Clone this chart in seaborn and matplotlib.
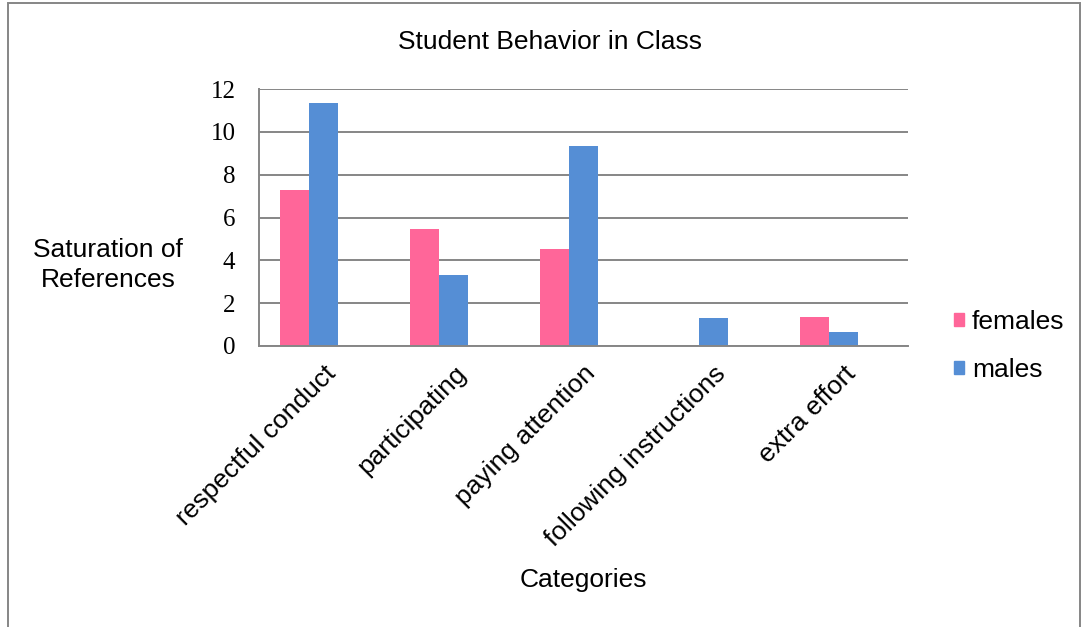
import numpy as np
import pandas as pd
import matplotlib
matplotlib.use("Agg")
import matplotlib.pyplot as plt
import matplotlib.patches as mpatches
from matplotlib.ticker import FixedLocator
import seaborn as sns

# --- Data
categories = ["respectful conduct", "participating", "paying attention",
              "following instructions", "extra effort"]
females = [7.27, 5.45, 4.55, 0.0, 1.36]
males = [11.33, 3.33, 9.33, 1.33, 0.67]
# the source chart reserves room for a third, empty series
blank = [np.nan] * len(categories)

series_names = ["females", "males", "blank"]
series_colors = {"females": "#FF6699", "males": "#558ED5", "blank": "#FFFFFF"}

df = pd.DataFrame({
    "category": categories * 3,
    "series": [s for s in series_names for _ in categories],
    "value": females + males + blank,
})

sns.set_style("white")
plt.rcParams["font.family"] = ["Liberation Sans", "DejaVu Sans"]
plt.rcParams["text.color"] = "black"

grid_col = "#868686"
fs = 19

fig = plt.figure(figsize=(10.84, 6.27), dpi=100)
ax = fig.add_axes([259 / 1084, 1 - 346 / 627, (908 - 259) / 1084, (346 - 89) / 627])

sns.barplot(data=df, x="category", y="value", hue="series", hue_order=series_names,
            order=categories, palette=series_colors, width=0.67, linewidth=0,
            saturation=1, legend=False, ax=ax)

ax.set_ylim(0, 12)
ax.set_xlim(-0.5, len(categories) - 0.5)
ax.set_yticks(range(0, 13, 2))
ax.yaxis.grid(True, color=grid_col, linewidth=1.4)
ax.set_axisbelow(True)

for side in ["top", "right"]:
    ax.spines[side].set_visible(False)
for side in ["left", "bottom"]:
    ax.spines[side].set_color(grid_col)
    ax.spines[side].set_linewidth(1.4)

ax.tick_params(axis="y", length=6, width=1.4, color=grid_col, pad=11,
               labelsize=18, labelcolor="black")
for lab in ax.get_yticklabels():
    lab.set_family(["Liberation Serif", "DejaVu Serif"])

ax.xaxis.set_minor_locator(FixedLocator(np.arange(-0.5, len(categories), 1.0)))
ax.tick_params(axis="x", which="major", length=0, pad=11, labelcolor="black")
ax.tick_params(axis="x", which="minor", length=6, width=1.4, color=grid_col)
ax.set_xticks(range(len(categories)))
ax.set_xticklabels(categories, rotation=45, ha="right", rotation_mode="anchor",
                   fontsize=fs)

ax.set_xlabel("")
ax.set_ylabel("")

fig.text(550 / 1084, 1 - 42 / 627, "Student Behavior in Class", fontsize=fs,
         ha="center", va="center")
fig.text(583 / 1084, 1 - 580 / 627, "Categories", fontsize=fs,
         ha="center", va="center")
fig.text(108 / 1084, 1 - 265 / 627, "Saturation of\nReferences", fontsize=fs,
         ha="center", va="center", linespacing=1.3)

handles = [mpatches.Patch(color=series_colors[s], label=s) for s in ["females", "males"]]
fig.legend(handles=handles, loc="center left",
           bbox_to_anchor=(943 / 1084, 1 - 346 / 627), frameon=False,
           fontsize=fs, handlelength=0.4, handleheight=0.4, handletextpad=0.3,
           labelspacing=0.9, borderaxespad=0)

# outer chart border
fig.patches.append(mpatches.Rectangle((8 / 1084, -0.02), (1080 - 8) / 1084, 1.02 - 3 / 627,
                                      transform=fig.transFigure, fill=False,
                                      edgecolor=grid_col, linewidth=1.4))

fig.savefig("out.png", dpi=100)
